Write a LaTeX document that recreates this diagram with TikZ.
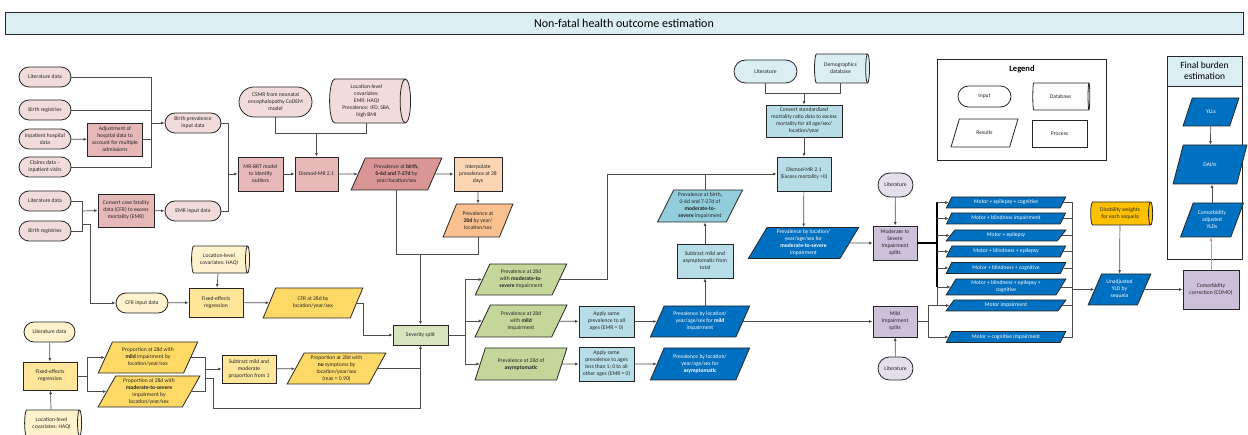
\documentclass[tikz,border=0pt]{standalone}
\usepackage{fontspec}
\setmainfont{Carlito}
\usetikzlibrary{shapes.geometric,shapes.misc,arrows.meta}

\definecolor{pinkIn}{HTML}{F2DCDB}
\definecolor{pinkProc}{HTML}{E6B9B8}
\definecolor{pinkRes}{HTML}{DA9694}
\definecolor{orgProc}{HTML}{FCD5B4}
\definecolor{orgRes}{HTML}{FAC090}
\definecolor{ylwIn}{HTML}{FFF2CC}
\definecolor{ylwProc}{HTML}{FFE699}
\definecolor{ylwRes}{HTML}{FFD966}
\definecolor{grnProc}{HTML}{D7E4BD}
\definecolor{grnRes}{HTML}{C4D79B}
\definecolor{bluIn}{HTML}{DAEEF3}
\definecolor{bluProc}{HTML}{B7DEE8}
\definecolor{bluRes}{HTML}{92CDDC}
\definecolor{navyRes}{HTML}{0070C0}
\definecolor{lavProc}{HTML}{CCC0DA}
\definecolor{lavIn}{HTML}{E4DFEC}
\definecolor{goldDb}{HTML}{FFC000}
\definecolor{redLink}{HTML}{D98C8A}

\newcommand{\boxfont}{\fontsize{5.6}{7}\selectfont}

\tikzset{
  shp/.style={draw=black!85, line width=0.8pt, align=center, font=\boxfont,
    inner sep=1pt, text=black!85},
  sz/.style 2 args={minimum width=#1, minimum height=#2},
  % the cylinder measures its height along the axis
  dbsz/.style 2 args={minimum width=#2, minimum height=#1},
  inbox/.style={shp, rounded rectangle},
  procbox/.style={shp, rectangle},
  resbox/.style={shp, trapezium, trapezium left angle=63,
    trapezium right angle=117, trapezium stretches=true},
  navybox/.style={resbox, fill=navyRes, text=white},
  dbbox/.style={shp, cylinder, shape border rotate=0, aspect=0.3,
    cylinder uses custom fill, cylinder body fill=#1, cylinder end fill=#1},
  link/.style={draw=black!70, line width=0.7pt},
  arr/.style={link, -{Latex[length=3.5pt,width=3pt]}},
}

\begin{document}
\begin{tikzpicture}[x=1pt, y=-1pt]
\useasboundingbox (0,0) rectangle (1248,435);

% banner
\node[draw=black!85, line width=0.8pt, fill=bluIn, sz={1238}{22},
  font=\fontsize{12}{14}\selectfont] (title) at (624,23)
  {Non-fatal health outcome estimation};

% birth prevalence and EMR inputs
\node[inbox, fill=pinkIn, sz={54}{20}] (litA) at (45,77) {Literature data};
\node[inbox, fill=pinkIn, sz={54}{20}] (birthA) at (45,110) {Birth registries};
\node[inbox, fill=pinkIn, sz={54}{20}] (inpat) at (45,139) {Inpatient hospital\\data};
\node[inbox, fill=pinkIn, sz={54}{20}] (claims) at (45,167) {Claims data –\\inpatient visits};
\node[procbox, fill=pinkProc, sz={55}{33}] (adjust) at (115,139.5)
  {Adjustment of\\hospital data to\\account for multiple\\admissions};
\node[inbox, fill=pinkIn, sz={58}{20}] (birthIn) at (193,123) {Birth prevalence\\input data};
\node[inbox, fill=pinkIn, sz={54}{20}] (litB) at (45,201) {Literature data};
\node[inbox, fill=pinkIn, sz={54}{20}] (birthB) at (45,231) {Birth registries};
\node[procbox, fill=pinkProc, sz={56}{33}] (convert) at (126,210.5)
  {Convert case fatality\\data (CFR) to excess\\mortality (EMR)};
\node[inbox, fill=pinkIn, sz={58}{20}] (emrIn) at (193,211) {EMR input data};

% modelling birth prevalence
\node[procbox, fill=pinkProc, sz={45}{34}] (mrbrt) at (260.5,174) {MR-BRT model\\to identify\\outliers};
\node[procbox, fill=pinkProc, sz={43}{34}] (dismodA) at (316.5,174) {Dismod-MR 2.1};
\node[inbox, fill=pinkIn, sz={75}{30}] (csmr) at (275.5,102)
  {CSMR from neonatal\\encephalopathy CoDEM\\model};
\node[dbbox=pinkIn, dbsz={81}{44}] (covPink) at (366.5,101)
  {Location-level\\covariates:\\EMR: HAQI\\Prevalence: IFD, SBA,\\high BMI};
\node[resbox, fill=pinkRes, sz={91}{32}] (prevBirth) at (396.5,174)
  {Prevalence at \textbf{birth,}\\\textbf{0-6d and 7-27d} by\\year/location/sex};
\node[procbox, fill=orgProc, sz={48}{34}] (interp) at (478,174)
  {Interpolate\\prevalence at 28\\days};
\node[resbox, fill=orgRes, sz={70}{33}] (prevTw) at (478,220.5)
  {Prevalence at\\\textbf{28d} by year/\\location/sex};
\node[procbox, fill=grnProc, sz={55}{20}] (severity) at (420.5,335) {Severity split};

% case fatality branch
\node[dbbox=ylwIn, dbsz={58}{27}] (covA) at (219,259.5) {Location-level\\covariates: HAQI};
\node[procbox, fill=ylwProc, sz={54}{29}] (fixedA) at (216,302.5) {Fixed-effects\\regression};
\node[inbox, fill=ylwIn, sz={54}{20}] (cfrIn) at (142,303) {CFR input data};
\node[resbox, fill=ylwRes, sz={100}{30}] (cfrTw) at (313,303) {CFR at 28d by\\location/year/sex};

% impairment proportions
\node[inbox, fill=ylwIn, sz={53}{20}] (litC) at (49.5,332) {Literature data};
\node[procbox, fill=ylwProc, sz={54}{28}] (fixedB) at (50,376) {Fixed-effects\\regression};
\node[dbbox=ylwIn, dbsz={57}{26}] (covB) at (51.5,423) {Location-level\\covariates: HAQI};
\node[resbox, fill=ylwRes, sz={100}{31}] (propMild) at (148,357.5)
  {Proportion at 28d with\\\textbf{mild} impairment by\\location/year/sex};
\node[resbox, fill=ylwRes, sz={102}{31}] (propMod) at (149,391.5)
  {Proportion at 28d with\\\textbf{moderate-to-severe}\\impairment by\\location/year/sex};
\node[procbox, fill=ylwProc, sz={54}{28}] (subA) at (249,369)
  {Subtract mild and\\moderate\\proportion from 1};
\node[resbox, fill=ylwRes, sz={99}{31}] (propNone) at (336.5,368.5)
  {Proportion at 28d with\\\textbf{no} symptoms by\\location/year/sex\\(max = 0.90)};

% severity results
\node[resbox, fill=grnRes, sz={92}{31}] (gModSev) at (521,279.5)
  {Prevalence at 28d\\with \textbf{moderate-to-}\\\textbf{severe} impairment};
\node[resbox, fill=grnRes, sz={92}{32}] (gMild) at (521,321)
  {Prevalence at 28d\\with \textbf{mild}\\impairment};
\node[resbox, fill=grnRes, sz={92}{32}] (gAsym) at (521,364)
  {Prevalence at 28d of\\\textbf{asymptomatic}};
\node[procbox, fill=bluProc, sz={55}{31}] (applyA) at (606.5,321.5)
  {Apply same\\prevalence to all\\ages (EMR = 0)};
\node[procbox, fill=bluProc, sz={55}{34}] (applyB) at (606.5,364)
  {Apply same\\prevalence to ages\\less than 1; 0 to all\\other ages (EMR = 0)};
\node[navybox, sz={100}{31}] (bMild) at (700,321.5)
  {Prevalence by location/\\year/age/sex for \textbf{mild}\\impairment};
\node[navybox, sz={100}{32}] (bAsym) at (700,364)
  {Prevalence by location/\\year/age/sex for\\\textbf{asymptomatic}};
\node[procbox, fill=bluProc, sz={56}{34}] (subB) at (705,261)
  {Subtract mild and\\asymptomatic from\\total};
\node[resbox, fill=bluRes, sz={85}{32}] (bBirth) at (700,206)
  {Prevalence at birth,\\0-6d and 7-27d of\\\textbf{moderate-to-}\\\textbf{severe} impairment};

% excess mortality
\node[inbox, fill=bluIn, sz={65}{23}] (litD) at (765.5,71.5) {Literature};
\node[dbbox=bluIn, dbsz={55}{29}] (demo) at (840.5,68.5) {Demographics\\database};
\node[procbox, fill=bluProc, sz={76}{32}] (smr) at (804,121)
  {Convert standardized\\mortality ratio data to excess\\mortality for all age/sex/\\location/year};
\node[procbox, fill=bluProc, sz={54}{34}] (dismodB) at (804,174)
  {Dismod-MR 2.1\\(Excess mortality >0)};
\node[navybox, sz={111}{31}] (bModSev) at (803.5,243)
  {Prevalence by location/\\year/age/sex for\\\textbf{moderate-to-severe}\\impairment};

% impairment splits
\node[procbox, fill=lavProc, sz={44}{34}] (modSplit) at (895,243)
  {Moderate to\\Severe\\Impairment\\splits};
\node[inbox, fill=lavIn, sz={37}{24}] (litE) at (895.5,185) {Literature};
\node[procbox, fill=lavProc, sz={44}{31}] (mildSplit) at (895,321.5)
  {Mild\\Impairment\\splits};
\node[inbox, fill=lavIn, sz={37}{23}] (litF) at (895.5,368.5) {Literature};

% sequelae
\node[navybox, sz={120}{11}] (motA) at (1006,202.5) {Motor + epilepsy + cognitive};
\node[navybox, sz={120}{11}] (motB) at (1006,218.5) {Motor + blindness impairment};
\node[navybox, sz={120}{11}] (motC) at (1006,235.5) {Motor + epilepsy};
\node[navybox, sz={120}{11}] (motD) at (1006,251.5) {Motor + blindness + epilepsy};
\node[navybox, sz={120}{11}] (motE) at (1006,268) {Motor + blindness + cognitive};
\node[navybox, sz={120}{16}] (motF) at (1006,287) {Motor + blindness + epilepsy +\\cognitive};
\node[navybox, sz={120}{11}] (motG) at (1006,305.5) {Motor impairment};
\node[navybox, sz={120}{11}] (motH) at (1006,337) {Motor + cognitive impairment};

\node[dbbox=goldDb, dbsz={62}{23}] (dw) at (1120,213.5) {Disability weights\\for each sequela};
\node[navybox, sz={63}{31}] (yldU) at (1119.5,289.5) {Unadjusted\\YLD by\\sequela};
\node[procbox, fill=lavProc, sz={56}{39}] (como) at (1211,289.5) {Comorbidity\\correction (COMO)};

% final burden panel
\node[draw=black!85, line width=0.8pt, sz={75}{203}] (finalPanel) at (1204.5,157.5) {};
\node[draw=black!85, line width=0.8pt, fill=bluIn, sz={75}{30}, align=center,
  font=\fontsize{9.5}{11}\selectfont] (finalHead) at (1204.5,71) {Final burden\\estimation};
\node[navybox, sz={56}{28}] (yll) at (1211,112) {YLLs};
\node[navybox, sz={74}{39}] (daly) at (1210,164.5) {DALYs};
\node[navybox, sz={63}{34}] (yldAdj) at (1212,220) {Comorbidity\\adjusted\\YLDs};

% legend
\node[draw=black!85, line width=0.8pt, sz={169}{101}] (legendBox) at (1021.5,109.5) {};
\node[font=\bfseries\fontsize{8.5}{10}\selectfont] (legendTitle) at (1022,69) {Legend};
\node[inbox, fill=white, sz={55}{21}] (legIn) at (984.5,96.5) {Input};
\node[dbbox=white, dbsz={57}{27}] (legDb) at (1060.5,96.5) {Database};
\node[resbox, fill=white, sz={67}{28}] (legRes) at (984.5,133) {Results};
\node[procbox, fill=white, sz={55}{27}] (legProc) at (1059.5,133.5) {Process};

% junctions
\coordinate (jBirth) at (151,123);
\coordinate (jMr) at (228,174);
\coordinate (jConv) at (82,211);
\coordinate (jCfr) at (82,224);
\coordinate (jDis) at (316.5,133);
\coordinate (jSev) at (420.5,254);
\coordinate (jProp) at (87,376);
\coordinate (jSub) at (205,369);
\coordinate (jLow) at (205,378);
\coordinate (jBot) at (420.5,408);
\coordinate (jG) at (465,335);
\coordinate (jDm) at (607,174);
\coordinate (jSmr) at (804,93);
\coordinate (jMs) at (937,243);
\coordinate (jMi) at (928,321.5);
\coordinate (jY) at (1072,289.5);

% connectors, left
\draw[link] (litA.east) -| (jBirth);
\draw[link] (birthA.east) -| (jBirth);
\draw[link] (adjust.east) -| (jBirth);
\draw[link] (claims.east) -| (jBirth);
\draw[arr] (inpat) -- (adjust);
\draw[arr] (jBirth) -- (birthIn.west);
\draw[link] (litB.east) -| (jConv);
\draw[link] (birthB.east) -| (jConv);
\draw[arr] (jConv) -- (convert.west);
\draw[arr] (convert) -- (emrIn);
\draw[arr] (jCfr) -- ++(8,0) |- (cfrIn.west);
\draw[link] (birthIn.east) -| (jMr);
\draw[link] (emrIn.east) -| (jMr);
\draw[arr] (jMr) -- (mrbrt.west);
\draw[arr] (mrbrt) -- (dismodA);
\draw[link] (csmr.south) -- (csmr.south |- jDis) -- (covPink.south |- jDis) -- (covPink.south);
\draw[arr] (jDis) -- (dismodA.north);
\draw[arr] (dismodA) -- (prevBirth);
\draw[arr] (prevBirth) -- (interp);
\draw[arr] (interp) -- (prevTw);
\draw[link] (prevBirth.south) -- (prevBirth.south |- jSev) -- (prevTw.south |- jSev) -- (prevTw.south);
\draw[arr] (jSev) -- (severity.north);

% connectors, case fatality and proportions
\draw[arr] (covA) -- (fixedA);
\draw[arr] (cfrIn) -- (fixedA);
\draw[arr] (fixedA) -- (cfrTw);
\draw[arr] (cfrTw.east) -- ++(6,0) |- (severity.west);
\draw[arr] (litC) -- (fixedB);
\draw[arr] (covB) -- (fixedB);
\draw[link] (fixedB.east) -- (jProp);
\draw[arr] (jProp) |- (propMild.west);
\draw[arr] (jProp) |- (propMod.west);
\draw[link] (propMild.east) -| (jSub);
\draw[link] (propMod.east) -| (jSub);
\draw[arr] (jSub) -- (subA.west);
\draw[arr] (subA) -- (propNone);
\draw[link] (jLow) -- ++(8,0) |- (jBot);
\draw[link] (propNone.east) -| (jBot);
\draw[arr] (jBot) -- (severity.south);

% connectors, severity
\draw[link] (severity.east) -- (jG);
\draw[arr] (jG) |- (gModSev.west);
\draw[arr] (jG) |- (gMild.west);
\draw[arr] (jG) |- (gAsym.west);
\draw[arr] (gMild) -- (applyA);
\draw[arr] (gAsym) -- (applyB);
\draw[arr] (applyA) -- (bMild);
\draw[arr] (applyB) -- (bAsym);
\draw[arr] (subB.south |- bMild.north) -- (subB.south);
\draw[arr] (subB.north) -- (subB.north |- bBirth.south);
\draw[link] (subB.north |- bBirth.north) -- (subB.north |- jDm);
\draw[arr] (gModSev.east) -| (jDm) -- (dismodB.west);

% connectors, excess mortality
\draw[link] (litD.south) -- (litD.south |- jSmr) -- (demo.south |- jSmr) -- (demo.south);
\draw[arr] (jSmr) -- (smr.north);
\draw[arr] (smr) -- (dismodB);
\draw[arr] (dismodB) -- (bModSev);
\draw[arr] (bModSev) -- (modSplit);
\draw[arr] (litE) -- (modSplit);
\draw[arr] (litF) -- (mildSplit);
\draw[arr] (bMild.east) -- (mildSplit.west);

% connectors, sequelae
\draw[link, draw=black, line width=1.4pt] (modSplit.east) -- (jMs);
\draw[link, draw=black, line width=1.2pt] (jMs |- motA.west) -- (jMs |- motF.west);
\draw[link] (jMs |- motF.west) -- (jMs |- motG.west);
\foreach \m in {motA,motB,motC,motD,motE,motF}
  \draw[arr] (jMs |- \m.west) -- (\m.west);
\draw[link] (mildSplit.east) -- (jMi);
\draw[arr] (jMi) |- (motG.west);
\draw[arr] (jMi) |- (motH.west);
\foreach \m in {motA,motB,motC,motD,motE,motF,motG,motH}
  \draw[link] (\m.east) -| (jY);
\draw[arr] (jY) -- (yldU.west);
\draw[arr] (dw) -- (yldU);
\draw[arr] (yldU) -- (como);
\draw[arr, draw=redLink] (como.north) -- (como.north |- yldAdj.south);
\draw[arr] (yll) -- (daly);
\draw[arr] (yldAdj.north) -- (yldAdj.north |- daly.south);

\end{tikzpicture}
\end{document}
